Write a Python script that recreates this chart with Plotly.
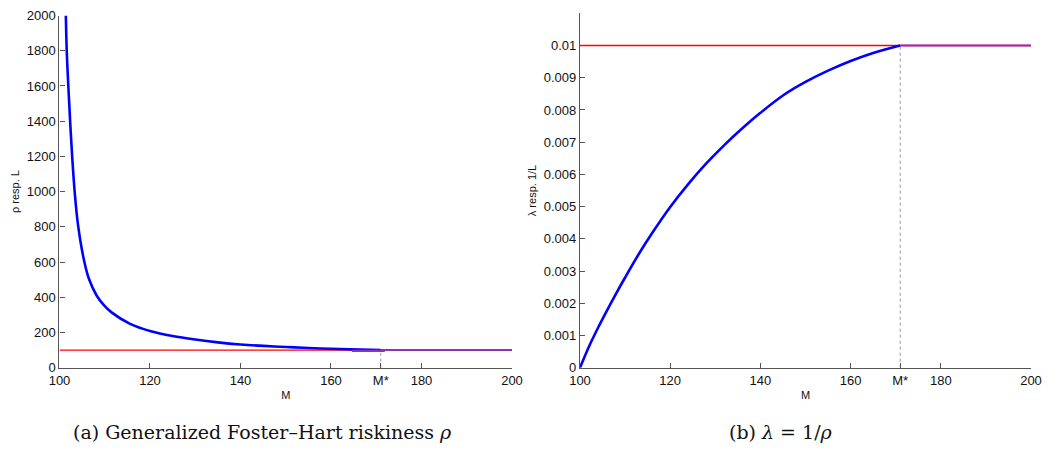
import plotly.graph_objects as go

# ---- data ----
M_STAR = 171
x_ticks = [100, 120, 140, 160, M_STAR, 180, 200]
x_ticklabels = ["100", "120", "140", "160", "M*", "180", "200"]

# (a) rho resp. L
M_rho = [101.4, 101.6, 101.95, 102.35, 102.8, 103.35, 104.1, 105.5, 106.5, 108.2,
         109.8, 111.5, 115.6, 120.2, 125, 130, 135, 140, 147.5, 155, 162, M_STAR]
rho = [2000, 1800, 1600, 1400, 1200, 1000, 810, 600, 505, 410,
       355, 314, 249, 207, 180, 160, 144, 132, 120, 112, 106, 100]
M_rho_dip = [164.6, 171.9]
rho_dip = [96, 96]
rho_ref = 100
rho_yticks = [0, 200, 400, 600, 800, 1000, 1200, 1400, 1600, 1800, 2000]

# (b) lambda resp. 1/L
M_lam = [100, 102, 104, 106, 108, 110, 113, 116, 120, 124, 128, 132, 136, 140,
         145, 150, 155, 160, 165, M_STAR]
lam = [0, 0.00066, 0.00124, 0.00178, 0.00230, 0.00280, 0.00352, 0.00418, 0.00499,
       0.00570, 0.00634, 0.00691, 0.00743, 0.00791, 0.00845, 0.00887, 0.00922,
       0.00952, 0.00977, 0.0100]
lam_ref = 0.01
lam_yticks = [0, 0.001, 0.002, 0.003, 0.004, 0.005, 0.006, 0.007, 0.008, 0.009, 0.01]
lam_yticklabels = ["0", "0.001", "0.002", "0.003", "0.004", "0.005", "0.006",
                   "0.007", "0.008", "0.009", "0.01"]

M_range = [100, 200]

BLUE = "#0000ff"
RED = "#ff0000"
PURPLE = "#9030c0"
AXC = "#555555"
TXT = "#111111"

fig = go.Figure()

# ---------- left panel ----------
fig.add_trace(go.Scatter(x=M_range, y=[rho_ref, rho_ref], mode="lines",
                         line=dict(color=RED, width=1.4), xaxis="x", yaxis="y",
                         showlegend=False, hoverinfo="skip"))
fig.add_trace(go.Scatter(x=[M_STAR, M_STAR], y=[0, rho_ref], mode="lines",
                         line=dict(color="#999999", width=1, dash="dot"),
                         xaxis="x", yaxis="y", showlegend=False))
fig.add_trace(go.Scatter(x=M_rho, y=rho, mode="lines",
                         line=dict(color=BLUE, width=2.6, shape="spline", smoothing=1.0),
                         xaxis="x", yaxis="y", showlegend=False))
fig.add_trace(go.Scatter(x=M_rho_dip, y=rho_dip, mode="lines", line=dict(color=PURPLE, width=2.2),
                         xaxis="x", yaxis="y", showlegend=False))
fig.add_trace(go.Scatter(x=[M_STAR, M_range[1]], y=[rho_ref, rho_ref], mode="lines",
                         line=dict(color=PURPLE, width=2), xaxis="x", yaxis="y", showlegend=False))

# ---------- right panel ----------
fig.add_trace(go.Scatter(x=M_range, y=[lam_ref, lam_ref], mode="lines",
                         line=dict(color=RED, width=1.4), xaxis="x2", yaxis="y2",
                         showlegend=False))
fig.add_trace(go.Scatter(x=[M_STAR, M_STAR], y=[0, lam_ref], mode="lines",
                         line=dict(color="#999999", width=1, dash="dot"),
                         xaxis="x2", yaxis="y2", showlegend=False))
fig.add_trace(go.Scatter(x=M_lam, y=lam, mode="lines",
                         line=dict(color=BLUE, width=2.6, shape="spline", smoothing=1.0),
                         xaxis="x2", yaxis="y2", showlegend=False))
fig.add_trace(go.Scatter(x=[M_STAR, M_range[1]], y=[lam_ref, lam_ref], mode="lines",
                         line=dict(color=PURPLE, width=2), xaxis="x2", yaxis="y2", showlegend=False))

SANS = "Liberation Sans, Arial, sans-serif"
tickfont = dict(family=SANS, size=13, color=TXT)
titlefont = dict(family=SANS, size=11, color=TXT)

xcommon = dict(range=M_range, tickmode="array", tickvals=x_ticks, ticktext=x_ticklabels,
               ticks="inside", ticklen=5, tickcolor=AXC, showline=True, linecolor=AXC,
               linewidth=1.3, showgrid=False, zeroline=False, tickfont=tickfont,
               automargin=False, ticklabelstandoff=1, ticklabeloverflow="allow",
               title=dict(text="M", font=titlefont, standoff=3), fixedrange=True)
ycommon = dict(ticks="inside", ticklen=5, tickcolor=AXC, showline=True, linecolor=AXC,
               linewidth=1.3, showgrid=False, zeroline=False, tickfont=tickfont,
               automargin=False, ticklabeloverflow="allow", fixedrange=True)

# the page body has an 8px margin, so the figure is sized and placed to fit the window
fig.update_layout(
    width=1045, height=442,
    margin=dict(l=0, r=0, t=0, b=0, autoexpand=False),
    paper_bgcolor="white", plot_bgcolor="white",
    xaxis=dict(domain=[0.04928, 0.48230], anchor="y", **xcommon),
    yaxis=dict(domain=[0.1862, 0.9830], anchor="x", range=[0, 2000], tickmode="array",
               tickvals=rho_yticks,
               title=dict(text="ρ resp. L", font=titlefont, standoff=4), **ycommon),
    xaxis2=dict(domain=[0.54737, 0.97895], anchor="y2", **xcommon),
    yaxis2=dict(domain=[0.1862, 0.9880], anchor="x2", range=[0, 0.011], tickmode="array",
                tickvals=lam_yticks, ticktext=lam_yticklabels,
                title=dict(text="λ resp. 1/L", font=titlefont, standoff=4), **ycommon),
    annotations=[
        dict(text="(a) Generalized Foster–Hart riskiness <i>ρ</i>", x=0.24354, y=0.0407,
             xref="paper", yref="paper", showarrow=False, xanchor="center", yanchor="middle",
             font=dict(family="DejaVu Serif, Liberation Serif, serif", size=19, color="#111111")),
        dict(text="(b) <i>λ</i> = 1/<i>ρ</i>", x=0.74019, y=0.0407,
             xref="paper", yref="paper", showarrow=False, xanchor="center", yanchor="middle",
             font=dict(family="DejaVu Serif, Liberation Serif, serif", size=19, color="#111111")),
    ],
)

fig.write_html("out.html")
